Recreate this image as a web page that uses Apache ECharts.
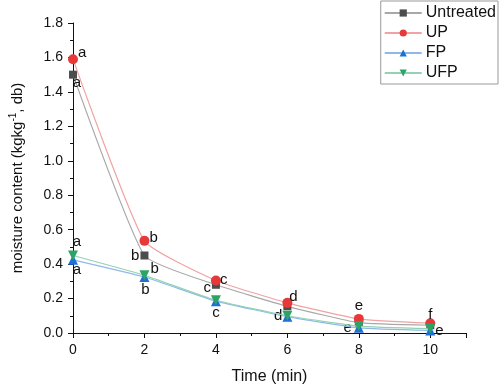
<!DOCTYPE html>
<html><head><meta charset="utf-8">
<script src="https://cdn.jsdelivr.net/npm/echarts@6/dist/echarts.min.js"></script>
<style>html,body{margin:0;padding:0;background:#fff}#c{width:500px;height:390px}</style>
</head><body><div id="c"></div>
<script>
const times = [0, 2, 4, 6, 8, 10];
const seriesNames = ['Untreated', 'UP', 'FP', 'UFP'];
const untreated = [1.50, 0.45, 0.28, 0.155, 0.06, 0.045];
const up = [1.59, 0.535, 0.305, 0.175, 0.082, 0.057];
const fp = [0.425, 0.325, 0.185, 0.095, 0.03, 0.015];
const ufp = [0.45, 0.335, 0.19, 0.10, 0.04, 0.025];
const untreatedLetters = ['a', 'b', 'c', '', 'e', ''];
const upLetters = ['a', 'b', 'c', 'd', 'e', 'f'];
const fpLetters = ['a', 'b', 'c', 'd', '', 'e'];
const ufpLetters = ['a', 'b', '', '', '', ''];
const xTicks = ['0', '2', '4', '6', '8', '10'];

// label placement (style only)
const place = {
  Untreated: [['bottom',[4,-4]],['left',[0,0]],['left',[0,3]],null,['left',[-2,5]],null],
  UP: [['right',[-1,-6]],['right',[-1,-3]],['right',[-2,-1]],['right',[-4,-6]],['top',[0,0]],['top',[0,5]]],
  FP: [['bottom',[4,-3]],['bottom',[1,-1]],['bottom',[0,-2]],['left',[1,-1]],null,['right',[-1,0]]],
  UFP: [['top',[4,0]],['right',[0,-6]],null,null,null,null]
};
const markerColors = ['#4d4d4d', '#e8393a', '#1f6fd8', '#2ca466'];
const lineColors = ['#a8a8a8', '#f0a3a3', '#8fb9ec', '#93d3b3'];
const symbols = ['rect', 'circle', 'triangle', 'path://M0,0 L10,0 L5,9 Z'];
const symbolSizes = [8, 10, 10, 10];

function build(name, vals, letters, idx) {
  return {
    name: name, type: 'line', smooth: 0.15,
    symbol: symbols[idx], symbolSize: symbolSizes[idx],
    itemStyle: { color: markerColors[idx] },
    lineStyle: { color: lineColors[idx], width: 1.2 },
    z: 2 + idx,
    data: vals.map((v, i) => {
      const p = place[name][i];
      const item = { value: [times[i], v] };
      if (letters[i] && p) {
        item.label = { show: true, formatter: letters[i], position: p[0], offset: p[1], distance: 1,
          color: '#111', fontSize: 15, fontFamily: 'Liberation Sans' };
      }
      return item;
    })
  };
}

const chart = echarts.init(document.getElementById('c'), null, { renderer: 'canvas' });
chart.setOption({
  animation: false,
  backgroundColor: '#fff',
  textStyle: { fontFamily: 'Liberation Sans' },
  grid: { left: 72, right: 34, top: 23, bottom: 50 },
  legend: {
    right: 2, top: 1, orient: 'vertical',
    data: seriesNames,
    itemWidth: 37, itemHeight: 9, itemGap: 4,
    padding: [4, 2, 3, 3],
    borderColor: '#999', borderWidth: 1,
    textStyle: { fontSize: 16, color: '#111', fontFamily: 'Liberation Sans', padding: [0, 0, 0, -1] }
  },
  xAxis: {
    type: 'value', min: 0, max: 11, interval: 2,
    name: 'Time (min)', nameLocation: 'middle', nameGap: 36,
    nameTextStyle: { fontSize: 16, color: '#111' },
    axisLine: { lineStyle: { color: '#111', width: 1 } },
    axisTick: { length: 5, lineStyle: { color: '#111' } },
    minorTick: { show: true, splitNumber: 2, length: 3, lineStyle: { color: '#111' } },
    splitLine: { show: false },
    axisLabel: { showMaxLabel: false, fontSize: 14, color: '#111', margin: 10,
      formatter: v => xTicks.includes(String(v)) ? String(v) : '' }
  },
  yAxis: {
    type: 'value', min: 0, max: 1.8, interval: 0.2,
    name: '{a|moisture content (kgkg}{s|-1}{a|, db)}', nameLocation: 'middle', nameGap: 48, nameRotate: 90,
    nameTextStyle: { rich: {
      a: { fontSize: 15, color: '#111', fontFamily: 'Liberation Sans', lineHeight: 17, verticalAlign: 'bottom' },
      s: { fontSize: 10, color: '#111', fontFamily: 'Liberation Sans', lineHeight: 17, verticalAlign: 'top' } } },
    axisLine: { show: true, lineStyle: { color: '#111', width: 1 } },
    axisTick: { show: true, length: 5, lineStyle: { color: '#111' } },
    minorTick: { show: true, splitNumber: 2, length: 3, lineStyle: { color: '#111' } },
    splitLine: { show: false },
    axisLabel: { fontSize: 14, color: '#111', margin: 10, formatter: v => v.toFixed(1) }
  },
  series: [
    build('Untreated', untreated, untreatedLetters, 0),
    build('UP', up, upLetters, 1),
    build('FP', fp, fpLetters, 2),
    build('UFP', ufp, ufpLetters, 3)
  ]
});
</script></body></html>
